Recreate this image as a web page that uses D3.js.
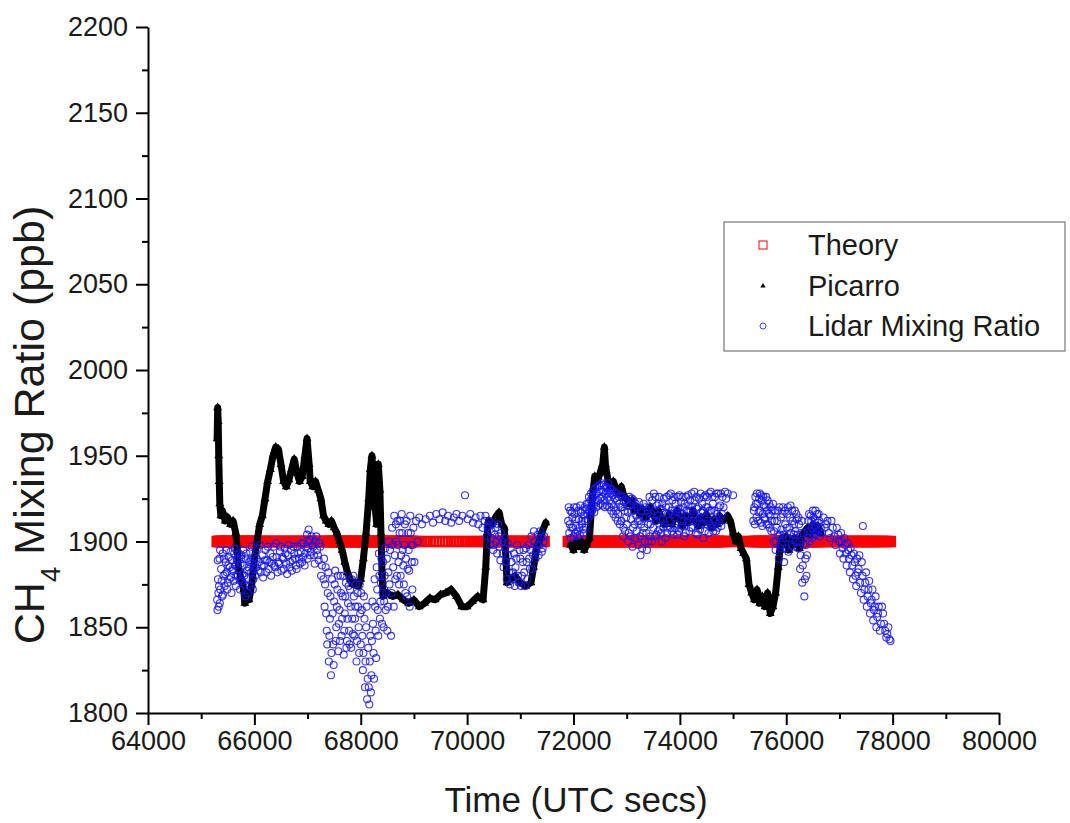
<!DOCTYPE html>
<html>
<head>
<meta charset="utf-8">
<script src="https://cdn.jsdelivr.net/npm/d3@7"></script>
<style>
  html, body { margin: 0; padding: 0; background: #ffffff; }
  svg { display: block; font-family: "Liberation Sans", Arial, Helvetica, sans-serif; }
</style>
</head>
<body>
<svg id="chart" width="1070" height="823"></svg>
<script>
// ---- Axis ticks ----
const xTicks = [64000, 66000, 68000, 70000, 72000, 74000, 76000, 78000, 80000];
const xMinorTicks = [65000, 67000, 69000, 71000, 73000, 75000, 77000, 79000];
const yTicks = [1800, 1850, 1900, 1950, 2000, 2050, 2100, 2150, 2200];
const yMinorTicks = [1825, 1875, 1925, 1975, 2025, 2075, 2125, 2175];

// ---- Series names ----
const seriesNames = ["Theory", "Picarro", "Lidar Mixing Ratio"];

// ---- Theory: constant mixing ratio, evaluated at the lidar retrieval times ----
const theoryLevel = 1900;
// extra theory evaluation times where no lidar retrieval passed screening
const theoryExtraTimes = [75050, 75100, 75150, 75200, 75250, 75300, 75350];

// ---- Picarro in-situ CH4 (time [UTC s], ppb); two flight legs ----
const picarroLeg1 = [
  [65300,1960],[65310,1978],[65320,1970],[65330,1950],[65340,1935],[65350,1922],[65370,1915],
  [65400,1918],[65450,1912],[65500,1914],[65550,1910],[65600,1912],[65650,1905],[65680,1895],
  [65700,1885],[65750,1878],[65800,1872],[65820,1864],[65850,1870],[65900,1866],[65950,1875],
  [66000,1890],[66050,1900],[66100,1910],[66150,1915],[66200,1925],[66250,1935],[66300,1942],
  [66350,1950],[66400,1955],[66450,1954],[66500,1945],[66550,1935],[66600,1932],[66650,1936],
  [66700,1942],[66750,1948],[66800,1940],[66850,1935],[66900,1938],[66950,1950],[66990,1960],
  [67030,1945],[67050,1935],[67100,1932],[67150,1935],[67200,1930],[67250,1925],[67300,1915],
  [67350,1912],[67400,1910],[67450,1912],[67500,1908],[67550,1905],[67600,1900],[67650,1895],
  [67700,1888],[67750,1882],[67800,1878],[67850,1875],[67900,1876],[67950,1874],[68000,1878],
  [68050,1890],[68100,1905],[68150,1925],[68180,1942],[68210,1950],[68240,1938],[68270,1920],
  [68300,1910],[68330,1945],[68360,1930],[68380,1905],[68400,1882],[68420,1868],[68500,1870],
  [68600,1868],[68700,1869],[68800,1866],[68900,1864],[69000,1866],[69100,1862],[69200,1864],
  [69300,1867],[69400,1866],[69500,1869],[69600,1870],[69700,1872],[69800,1868],[69900,1862],
  [70000,1862],[70100,1865],[70200,1868],[70300,1866],[70350,1885],[70380,1905],[70400,1912],
  [70450,1910],[70500,1912],[70550,1915],[70600,1917],[70650,1910],[70700,1908],[70730,1890],
  [70750,1876],[70800,1878],[70900,1880],[71000,1876],[71100,1874],[71200,1876],[71250,1885],
  [71300,1895],[71400,1905],[71480,1911]
];
const picarroLeg2 = [
  [71950,1898],[72000,1895],[72050,1900],[72100,1897],
  [72150,1900],[72200,1895],[72250,1898],[72300,1902],[72350,1925],[72400,1938],[72450,1935],
  [72500,1940],[72550,1945],[72580,1955],[72600,1945],[72650,1935],[72700,1932],[72750,1935],
  [72800,1930],[72850,1928],[72900,1932],[72950,1926],[73000,1925],[73050,1922],[73100,1924],
  [73150,1918],[73200,1920],[73250,1916],[73300,1919],[73350,1914],[73400,1917],[73450,1920],
  [73500,1916],[73550,1912],[73600,1918],[73650,1914],[73700,1910],[73750,1912],[73800,1916],
  [73850,1910],[73900,1914],[73950,1918],[74000,1913],[74050,1909],[74100,1915],[74150,1911],
  [74200,1914],[74250,1918],[74300,1912],[74350,1909],[74400,1914],[74450,1911],[74500,1916],
  [74550,1912],[74600,1908],[74650,1913],[74700,1910],[74750,1915],[74800,1912],[74900,1915],
  [74950,1912],[75000,1905],[75050,1900],[75100,1903],[75150,1896],[75200,1893],[75250,1890],
  [75300,1875],[75350,1870],[75400,1866],[75450,1872],[75500,1864],[75550,1868],[75600,1862],
  [75650,1870],[75700,1858],[75750,1862],[75800,1870],[75850,1885],[75880,1895],[75920,1902],
  [75950,1898],[76000,1903],[76050,1895],[76100,1898],[76150,1902],[76200,1900],[76250,1896],
  [76300,1904],[76350,1906],[76400,1908],[76450,1904],[76500,1910],[76550,1906],[76600,1909],
  [76650,1905]
];

// ---- Lidar retrieved mixing ratio (time [UTC s], ppb); two flight legs ----
const lidarLeg1 = [
  [65300,1866],[65315,1878],[65330,1862],[65345,1890],[65360,1872],[65375,1884],[65390,1868],
  [65405,1893],[65420,1880],[65440,1874],[65460,1888],[65480,1882],[65500,1876],[65520,1891],
  [65540,1885],[65560,1879],[65580,1889],[65600,1883],[65620,1893],[65640,1886],[65660,1880],
  [65680,1890],[65700,1884],[65720,1878],[65740,1887],[65760,1892],[65780,1881],[65800,1886],
  [65820,1875],[65840,1890],[65860,1883],[65880,1870],[65900,1888],[65920,1894],[65940,1882],
  [65960,1887],[65980,1878],[66000,1891],[66030,1885],[66060,1896],[66090,1888],[66120,1882],
  [66150,1892],[66180,1886],[66210,1895],[66240,1889],[66270,1884],[66300,1893],[66330,1887],
  [66360,1897],[66390,1885],[66420,1891],[66450,1888],[66480,1894],[66510,1883],[66540,1890],
  [66570,1896],[66600,1887],[66630,1892],[66660,1885],[66690,1895],[66720,1889],[66750,1893],
  [66780,1886],[66810,1897],[66840,1890],[66870,1894],[66900,1888],[66930,1899],[66960,1893],
  [66990,1904],[67010,1896],[67030,1901],[67060,1894],[67090,1898],[67120,1892],[67150,1900],
  [67180,1895],[67210,1889],[67240,1897],[67270,1886],[67300,1878],[67320,1862],[67340,1885],
  [67360,1848],[67380,1870],[67400,1830],[67420,1855],[67440,1822],[67460,1878],[67480,1840],
  [67500,1865],[67520,1883],[67540,1850],[67560,1872],[67580,1836],[67600,1860],[67620,1880],
  [67640,1845],[67660,1868],[67680,1834],[67700,1858],[67720,1876],[67740,1842],[67760,1864],
  [67780,1848],[67800,1872],[67820,1838],[67840,1855],[67860,1880],[67880,1845],[67900,1862],
  [67920,1830],[67940,1870],[67960,1850],[67980,1875],[68000,1840],[68020,1860],[68040,1825],
  [68060,1868],[68080,1815],[68100,1850],[68120,1808],[68140,1838],[68160,1805],[68180,1845],
  [68200,1822],[68220,1865],[68240,1835],[68260,1878],[68280,1848],[68300,1885],[68320,1860],
  [68340,1893],[68360,1855],[68380,1876],[68400,1852],[68420,1888],[68440,1865],[68460,1896],
  [68480,1870],[68500,1848],[68520,1882],[68550,1895],[68570,1845],[68590,1908],[68610,1885],
  [68630,1915],[68650,1878],[68670,1900],[68690,1912],[68710,1888],[68730,1905],[68750,1880],
  [68770,1916],[68790,1895],[68810,1875],[68830,1910],[68850,1890],[68870,1868],[68890,1905],
  [68910,1883],[68930,1915],[68950,1898],[68970,1872],[68990,1908],[69010,1888],[69040,1912],
  [69070,1900],[69100,1914],[69150,1910],[69220,1913],[69300,1915],[69360,1911],[69420,1916],
  [69480,1913],[69540,1917],[69590,1912],[69640,1915],[69700,1911],[69750,1914],[69800,1916],
  [69850,1912],[69910,1915],[69960,1927],[70010,1913],[70060,1916],[70110,1911],[70160,1914],
  [70210,1910],[70250,1915],[70290,1908],[70330,1912],[70370,1903],[70400,1909],[70430,1898],
  [70460,1906],[70490,1895],[70520,1904],[70550,1900],[70580,1910],[70610,1897],[70640,1905],
  [70670,1893],[70700,1902],[70730,1888],[70760,1899],[70790,1882],[70820,1896],[70850,1878],
  [70880,1893],[70910,1885],[70940,1898],[70970,1876],[71000,1890],[71030,1880],[71060,1895],
  [71090,1874],[71120,1888],[71150,1898],[71180,1884],[71210,1903],[71240,1892],[71270,1900],
  [71300,1895],[71330,1904],[71360,1898],[71390,1902],[71420,1896],[71450,1903],
  [65305,1860],[65310,1889],[65325,1870],[65335,1874],[65350,1864],[65355,1895],[65385,1877],
  [65410,1869],[65430,1890],[65450,1881],[65470,1895],[65490,1872],[65510,1886],[65530,1878],
  [65550,1894],[65570,1870],[65590,1884],[65610,1877],[65630,1896],[65650,1874],[65670,1889],
  [65690,1880],[65710,1893],[65730,1872],[65750,1890],[65770,1877],[65790,1895],[65810,1880],
  [65830,1868],[65850,1893],[65870,1878],[65890,1885],[65910,1874],[65930,1889],[65950,1897],
  [65970,1872],[65990,1884],
  [66015,1880],[66045,1890],[66075,1883],[66105,1898],[66135,1886],[66165,1879],[66195,1889],
  [66225,1882],[66255,1897],[66285,1888],[66315,1880],[66345,1891],[66375,1886],[66405,1899],
  [66435,1882],[66465,1887],[66495,1897],[66525,1891],[66555,1884],[66585,1893],[66615,1881],
  [66645,1898],[66675,1888],[66705,1883],[66735,1897],[66765,1890],[66795,1884],[66825,1893],
  [66855,1887],[66885,1899],[66915,1891],[66945,1886],[66975,1897],[67000,1890],[67020,1907],
  [67045,1892],[67075,1903],[67105,1897],[67135,1887],[67165,1903],[67195,1892],[67225,1899],
  [67255,1880],
  [67310,1890],[67330,1875],[67350,1858],[67370,1840],[67390,1882],[67410,1845],[67430,1868],
  [67450,1835],[67470,1858],[67490,1828],[67510,1875],[67530,1842],[67550,1862],[67570,1880],
  [67590,1852],[67610,1842],[67630,1870],[67650,1855],[67670,1880],[67690,1848],[67710,1868],
  [67730,1838],[67750,1855],[67770,1874],[67790,1840],[67810,1862],[67830,1878],[67850,1846],
  [67870,1868],[67890,1855],[67910,1875],[67930,1842],[67950,1862],[67970,1835],[67990,1858],
  [68010,1870],[68030,1845],[68050,1835],[68070,1855],[68090,1830],[68110,1862],[68130,1820],
  [68150,1815],[68170,1830],[68190,1812],[68210,1842],[68230,1852],[68250,1820],[68270,1862],
  [68290,1832],[68310,1872],[68330,1845],[68350,1880],[68370,1865],[68390,1890],[68410,1870],
  [68430,1850],[68450,1880],[68470,1860],[68490,1890],[68510,1862],[68530,1900],[68540,1875],
  [68580,1870],[68600,1898],[68620,1862],[68640,1892],[68660,1910],[68680,1880],[68700,1898],
  [68720,1875],[68740,1912],[68760,1892],[68780,1905],[68800,1886],[68820,1898],[68840,1870],
  [68860,1912],[68880,1884],[68900,1895],[68920,1862],[68940,1905],[68960,1888],[68980,1898],
  [70345,1915],[70385,1908],[70415,1912],[70445,1902],[70475,1910],[70505,1898],[70535,1908],
  [70565,1893],[70595,1903],[70625,1889],[70655,1900],[70685,1885],[70715,1896],[70745,1878],
  [70775,1892],[70805,1875],[70835,1888],[70865,1882],[70895,1874],[70925,1890],[70955,1880],
  [70985,1895],[71015,1874],[71045,1888],[71075,1882],[71105,1896],[71135,1878],[71165,1890],
  [71195,1895],[71225,1884],[71255,1906],[71285,1890],[71315,1898],[71345,1892],[71375,1906],
  [71405,1894],[71435,1900]
];
const lidarLeg2 = [
  [71900,1912],[71920,1905],[71940,1918],[71960,1908],[71980,1914],[72000,1903],[72020,1916],
  [72040,1909],[72060,1920],[72080,1906],[72100,1913],[72120,1904],[72140,1917],[72160,1910],
  [72180,1907],[72200,1915],[72220,1912],[72240,1919],[72260,1916],[72280,1922],[72300,1918],
  [72320,1924],[72340,1920],[72360,1926],[72380,1921],[72400,1927],[72420,1923],[72440,1928],
  [72460,1924],[72480,1929],[72500,1925],[72520,1930],[72540,1926],[72560,1929],[72580,1924],
  [72600,1928],[72620,1931],[72640,1926],[72660,1929],[72680,1924],[72700,1928],[72720,1922],
  [72740,1927],[72760,1920],[72780,1925],[72800,1918],[72820,1924],[72840,1916],[72860,1922],
  [72880,1927],[72900,1912],[72920,1920],[72940,1908],[72960,1918],[72980,1924],[73000,1910],
  [73020,1917],[73040,1905],[73060,1921],[73080,1913],[73100,1925],[73120,1908],[73140,1918],
  [73160,1902],[73180,1915],[73200,1920],[73220,1898],[73240,1912],[73260,1892],[73280,1918],
  [73300,1905],[73320,1922],[73340,1900],[73360,1914],[73380,1895],[73400,1910],[73420,1920],
  [73440,1903],[73460,1916],[73480,1924],[73500,1908],[73520,1918],[73540,1926],[73560,1904],
  [73580,1915],[73600,1922],[73620,1907],[73640,1919],[73660,1900],[73680,1913],[73700,1925],
  [73720,1910],[73740,1920],[73760,1905],[73780,1916],[73800,1927],[73820,1908],[73840,1918],
  [73860,1924],[73880,1904],[73900,1914],[73920,1922],[73940,1910],[73960,1926],[73980,1906],
  [74000,1917],[74020,1923],[74040,1909],[74060,1920],[74080,1903],[74100,1915],[74120,1926],
  [74140,1911],[74160,1921],[74180,1906],[74200,1918],[74220,1928],[74240,1908],[74260,1916],
  [74280,1924],[74300,1905],[74320,1919],[74340,1912],[74360,1925],[74380,1907],[74400,1917],
  [74420,1922],[74440,1902],[74460,1914],[74480,1927],[74500,1910],[74520,1920],[74540,1905],
  [74560,1918],[74580,1929],[74600,1908],[74620,1922],[74640,1913],[74660,1926],[74680,1906],
  [74700,1916],[74720,1928],[74740,1911],[74760,1921],[74780,1909],[74800,1926],[74850,1929],
  [74900,1928],[75000,1927],[75380,1912],[75400,1920],[75420,1926],[75440,1914],[75460,1922],
  [75480,1917],[75500,1928],[75520,1911],[75540,1924],[75560,1916],[75580,1921],[75600,1913],
  [75620,1926],[75640,1918],[75660,1910],[75680,1922],[75700,1915],[75720,1906],[75740,1918],
  [75760,1900],[75780,1912],[75800,1895],[75820,1908],[75840,1918],[75860,1890],[75880,1904],
  [75900,1914],[75920,1898],[75940,1920],[75960,1888],[75980,1910],[76000,1902],[76020,1916],
  [76040,1894],[76060,1908],[76080,1921],[76100,1898],[76120,1912],[76140,1904],[76160,1918],
  [76180,1900],[76200,1913],[76220,1896],[76240,1910],[76260,1884],[76280,1905],[76300,1876],
  [76320,1898],[76340,1868],[76360,1890],[76380,1880],[76400,1906],[76420,1912],[76440,1900],
  [76460,1915],[76480,1908],[76500,1918],[76520,1904],[76540,1913],[76560,1909],[76580,1916],
  [76600,1906],[76620,1912],[76650,1908],[76700,1914],[76750,1910],[76800,1905],[76850,1912],
  [76900,1903],[76950,1908],[77000,1900],[77030,1905],[77060,1896],[77090,1902],[77120,1893],
  [77150,1899],[77180,1890],[77210,1896],[77240,1886],[77270,1893],[77300,1880],[77330,1890],
  [77360,1884],[77390,1876],[77420,1888],[77440,1909],[77470,1872],[77500,1882],[77530,1868],
  [77560,1877],[77590,1864],[77620,1872],[77650,1860],[77680,1868],[77710,1856],[77740,1862],
  [77780,1852],[77820,1858],[77860,1848],[77900,1846],[77940,1843],
  [71910,1920],[71930,1910],[71950,1902],[71970,1917],[71990,1908],[72010,1920],[72030,1905],
  [72050,1913],[72070,1903],[72090,1918],[72110,1908],[72130,1921],[72150,1912],[72170,1918],
  [72190,1905],[72210,1920],[72230,1908],[72250,1922],[72270,1913],[72290,1926],
  [72310,1915],[72330,1928],[72350,1918],[72370,1930],[72390,1917],[72410,1931],[72430,1920],
  [72450,1932],[72470,1921],[72490,1933],[72510,1922],[72530,1934],[72550,1921],[72570,1933],
  [72590,1920],[72610,1932],[72630,1921],[72650,1934],[72670,1920],[72690,1931],[72710,1918],
  [72730,1930],[72750,1916],[72770,1929],[72790,1914],[72810,1928],[72830,1912],[72850,1926],
  [72870,1910],[72890,1920],
  [72910,1926],[72930,1903],[72950,1923],[72970,1906],[72990,1914],[73010,1921],[73030,1900],
  [73050,1926],[73070,1903],[73090,1918],[73110,1897],[73130,1924],[73150,1910],[73170,1922],
  [73190,1906],[73210,1912],[73230,1923],[73250,1903],[73270,1910],[73290,1896],[73310,1914],
  [73330,1908],[73350,1920],[73370,1905],[73390,1918],[73410,1900],[73430,1926],[73450,1910],
  [73470,1900],[73490,1914],[73510,1928],[73530,1903],[73550,1912],[73570,1921],[73590,1906],
  [73610,1926],[73630,1913],[73650,1905],[73670,1922],[73690,1908],[73710,1917],[73730,1902],
  [73750,1926],[73770,1908],[73790,1920],[73810,1912],[73830,1928],[73850,1906],[73870,1916],
  [73890,1926],[73910,1908],[73930,1917],[73950,1904],[73970,1919],[73990,1927],[74010,1908],
  [74030,1916],[74050,1926],[74070,1912],[74090,1922],[74110,1905],[74130,1918],[74150,1927],
  [74170,1912],[74190,1924],[74210,1908],[74230,1920],[74250,1912],[74270,1929],[74290,1914],
  [74310,1926],[74330,1904],[74350,1920],[74370,1914],[74390,1928],[74410,1910],[74430,1918],
  [74450,1926],[74470,1906],[74490,1920],[74510,1926],[74530,1912],[74550,1928],[74570,1910],
  [74590,1918],[74610,1926],[74630,1906],[74650,1918],[74670,1912],[74690,1928],[74710,1908],
  [74730,1920],[74750,1914],[74770,1928],[74790,1916],[74820,1920],[74870,1925],
  [75390,1918],[75410,1910],[75430,1922],[75450,1928],[75470,1912],[75490,1925],[75510,1918],
  [75530,1927],[75550,1909],[75570,1926],[75590,1914],[75610,1920],[75630,1910],[75650,1924],
  [75670,1916],[75690,1908],[75710,1920],[75730,1912],[75750,1922],[75770,1906],[75790,1918],
  [75810,1900],[75830,1912],[75850,1903],[75870,1920],[75890,1896],[75910,1907],[75930,1916],
  [75950,1904],[75970,1918],[75990,1896],[76010,1908],[76030,1920],[76050,1902],[76070,1914],
  [76090,1905],[76110,1918],[76130,1897],[76150,1910],[76170,1906],[76190,1916],[76210,1904],
  [76230,1914],[76250,1900],[76270,1892],[76290,1912],[76310,1886],[76330,1905],[76350,1878],
  [76370,1898],[76390,1892],[76410,1902],[76430,1916],[76450,1906],[76470,1912],[76490,1902],
  [76510,1914],[76530,1909],[76550,1918],[76570,1904],[76590,1911],[76610,1916],[76630,1903],
  [76675,1905],[76725,1908],[76775,1912],[76825,1902],[76875,1908],[76925,1898],[76975,1904],
  [77010,1893],[77045,1900],[77075,1890],[77105,1898],[77135,1886],[77165,1895],[77195,1882],
  [77225,1892],[77255,1878],[77285,1888],[77315,1874],[77345,1882],[77375,1892],[77405,1870],
  [77435,1880],[77455,1866],[77485,1876],[77515,1862],[77545,1872],[77575,1858],[77605,1866],
  [77635,1854],[77665,1862],[77695,1850],[77725,1858],[77760,1848],[77800,1862],[77840,1852],
  [77880,1844],[77920,1850],[77960,1842]
];

// ---- Layout ----
const svg = d3.select("#chart");
const plot = { left: 148, right: 999, top: 27, bottom: 713 };

const x = d3.scaleLinear().domain([64000, 80000]).range([plot.left, plot.right]);
const y = d3.scaleLinear().domain([1800, 2200]).range([plot.bottom, plot.top]);

const colors = { theory: "#ff0000", picarro: "#000000", lidar: "#1414ff" };

// ---- Data layer ----
const dataLayer = svg.append("g");

const lidarAll = lidarLeg1.concat(lidarLeg2);
const theoryTimes = lidarAll.map(d => d[0]).concat(theoryExtraTimes);

// Theory: open squares at the evaluation times
dataLayer.append("g")
  .selectAll("rect")
  .data(theoryTimes)
  .join("rect")
  .attr("x", t => x(t) - 4.5)
  .attr("y", y(theoryLevel) - 4.5)
  .attr("width", 9)
  .attr("height", 9)
  .attr("fill", "none")
  .attr("stroke", colors.theory)
  .attr("stroke-width", 2.2);

// Picarro: dense trace of small triangles
const picLine = d3.line().x(d => x(d[0])).y(d => y(d[1]));
[picarroLeg1, picarroLeg2].forEach(leg => {
  dataLayer.append("path")
    .attr("d", picLine(leg))
    .attr("fill", "none")
    .attr("stroke", colors.picarro)
    .attr("stroke-width", 7)
    .attr("stroke-linejoin", "round")
    .attr("stroke-linecap", "round");
});
const tri = d3.symbol().type(d3.symbolTriangle).size(34);
dataLayer.append("g")
  .selectAll("path")
  .data(picarroLeg1.concat(picarroLeg2))
  .join("path")
  .attr("transform", d => `translate(${x(d[0])},${y(d[1])})`)
  .attr("d", tri)
  .attr("fill", colors.picarro);

// Lidar: open circles
dataLayer.append("g")
  .selectAll("circle")
  .data(lidarAll)
  .join("circle")
  .attr("cx", d => x(d[0]))
  .attr("cy", d => y(d[1]))
  .attr("r", 3.5)
  .attr("fill", "none")
  .attr("stroke", colors.lidar)
  .attr("stroke-width", 1.1)
  .attr("stroke-opacity", 0.85);

// ---- Axes ----
function styleAxis(g) {
  g.selectAll(".domain").attr("stroke", "#000").attr("stroke-width", 2);
  g.selectAll(".tick line").attr("stroke", "#000").attr("stroke-width", 2);
  g.selectAll(".tick text")
    .attr("fill", "#1a1a1a")
    .style("font-size", "27px")
    .style("font-family", "'Liberation Sans', Arial, sans-serif");
}

const xAxis = svg.append("g").attr("transform", `translate(0,${plot.bottom})`)
  .call(d3.axisBottom(x).tickValues(xTicks).tickFormat(d3.format("d"))
    .tickSize(12).tickSizeOuter(0).tickPadding(6));
styleAxis(xAxis);
const xMinor = svg.append("g").attr("transform", `translate(0,${plot.bottom})`)
  .call(d3.axisBottom(x).tickValues(xMinorTicks).tickFormat("").tickSize(6).tickSizeOuter(0));
styleAxis(xMinor);
xMinor.select(".domain").remove();

const yAxis = svg.append("g").attr("transform", `translate(${plot.left},0)`)
  .call(d3.axisLeft(y).tickValues(yTicks).tickFormat(d3.format("d"))
    .tickSize(12).tickSizeOuter(0).tickPadding(8));
styleAxis(yAxis);
const yMinor = svg.append("g").attr("transform", `translate(${plot.left},0)`)
  .call(d3.axisLeft(y).tickValues(yMinorTicks).tickFormat("").tickSize(6).tickSizeOuter(0));
styleAxis(yMinor);
yMinor.select(".domain").remove();

// ---- Axis titles ----
svg.append("text")
  .attr("x", 576)
  .attr("y", 812)
  .attr("text-anchor", "middle")
  .attr("fill", "#1a1a1a")
  .style("font-size", "35px")
  .text("Time (UTC secs)");

const yTitle = svg.append("text")
  .attr("transform", "translate(44,425) rotate(-90)")
  .attr("text-anchor", "middle")
  .attr("fill", "#1a1a1a")
  .style("font-size", "43px");
yTitle.append("tspan").text("CH");
yTitle.append("tspan").attr("baseline-shift", "sub").style("font-size", "28px").text("4");
yTitle.append("tspan").text(" Mixing Ratio (ppb)");

// ---- Legend ----
const legend = svg.append("g");
legend.append("rect")
  .attr("x", 724).attr("y", 222).attr("width", 341).attr("height", 129)
  .attr("fill", "#fff").attr("stroke", "#777").attr("stroke-width", 1.2);

const rows = [245, 286, 326];
legend.append("rect")
  .attr("x", 759).attr("y", rows[0] - 4).attr("width", 8).attr("height", 8)
  .attr("fill", "none").attr("stroke", colors.theory).attr("stroke-width", 1);
legend.append("path")
  .attr("transform", `translate(763,${rows[1]})`)
  .attr("d", d3.symbol().type(d3.symbolTriangle).size(12))
  .attr("fill", colors.picarro);
legend.append("circle")
  .attr("cx", 763).attr("cy", rows[2]).attr("r", 3)
  .attr("fill", "none").attr("stroke", colors.lidar).attr("stroke-width", 0.8);

legend.selectAll("text.lbl")
  .data(seriesNames)
  .join("text")
  .attr("class", "lbl")
  .attr("x", 808)
  .attr("y", (d, i) => rows[i] + 10)
  .attr("fill", "#1a1a1a")
  .style("font-size", "29px")
  .text(d => d);
</script>
</body>
</html>
